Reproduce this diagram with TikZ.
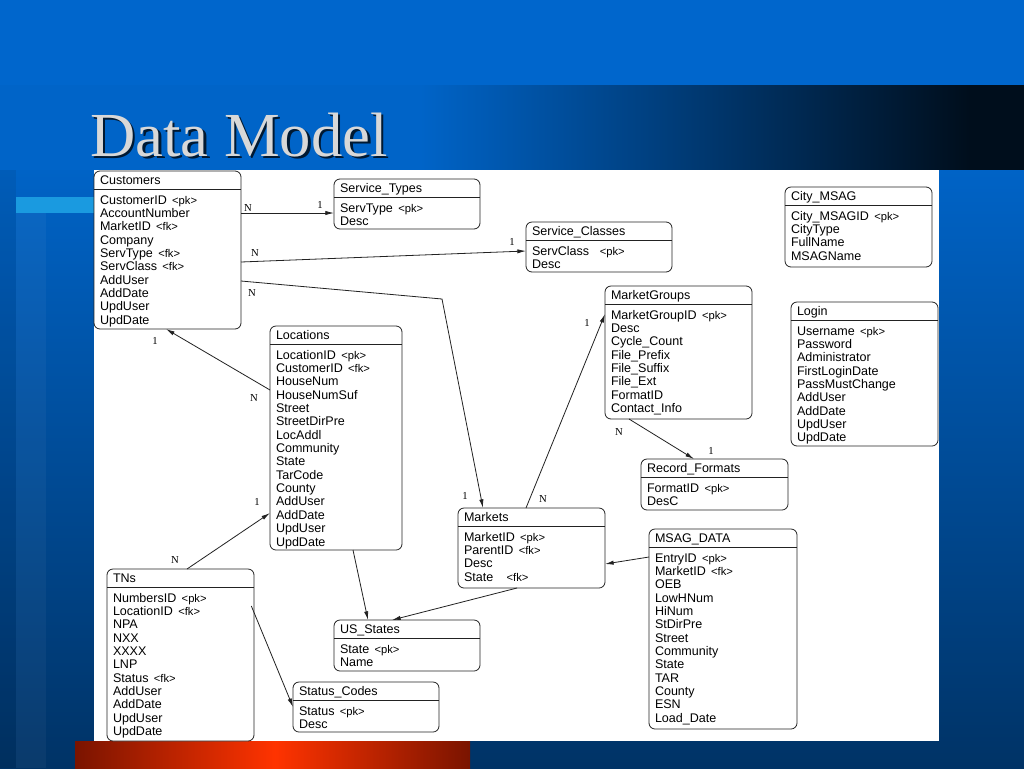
\documentclass[tikz,border=0pt]{standalone}
\usepackage{fontspec}
\setmainfont{Liberation Sans}
\newfontfamily\titlefont{Liberation Serif}
\newfontfamily\cardfont{Liberation Serif}
\usetikzlibrary{arrows.meta,calc}

\definecolor{topblue}{HTML}{0066CC}
\definecolor{bandleft}{HTML}{0064C8}
\definecolor{bandright}{HTML}{000E1C}
\definecolor{bgtop}{HTML}{0063C6}
\definecolor{bgbot}{HTML}{003366}
\definecolor{lightbar}{HTML}{1A9AE0}
\definecolor{reddark}{HTML}{7A1400}
\definecolor{redbright}{HTML}{FF3300}
\definecolor{titlegrey}{HTML}{D8D8D8}
\definecolor{inkline}{HTML}{222222}

\newcommand\gp{\hspace{4pt}}
\newcommand\pkey{{\fontsize{8.4}{10}\selectfont<pk>}}
\newcommand\fkey{{\fontsize{8.4}{10}\selectfont<fk>}}

\tikzset{
  tbl/.style={draw=inkline, line width=0.6pt, rounded corners=4.5pt, fill=white,
    rectangle, inner sep=0pt, outer sep=0pt},
  tline/.style={draw=inkline, line width=0.6pt},
  rowtxt/.style={anchor=base west, inner sep=0pt, outer sep=0pt,
    font=\fontsize{9.4}{10}\selectfont, text=black},
  card/.style={inner sep=0pt, font=\cardfont\fontsize{8}{9}\selectfont, text=black},
  rel/.style={draw=inkline, line width=0.6pt, -{Latex[length=6.5pt,width=3.2pt]}},
  plain/.style={draw=inkline, line width=0.6pt}
}

% name, left, top, right, bottom, title, rows
\newcommand\erbox[7]{%
  \node[tbl, anchor=north west, minimum width={(#4-#2)*0.75pt},
        minimum height={(#5-#3)*0.75pt}] (#1) at (#2,#3) {};
  \draw[tline] (#1.west |- 0,#3+18.5) -- (#1.east |- 0,#3+18.5);
  \node[rowtxt] (#1-h) at (#2+6,#3+13.6) {#6};
  \foreach [count=\i] \r in {#7} {
    \node[rowtxt] (#1-\i) at (#2+6,#3+33.1+\i*13.35-13.35) {\r};
  }%
}

\begin{document}
\begin{tikzpicture}[x=0.75pt,y=-0.75pt]
\useasboundingbox (0,0) rectangle (1024,768);

% background
\fill[topblue] (0,0) rectangle (1024,85);
\fill[bandleft] (0,85) rectangle (420,170);
\shade[left color=bandleft, right color=bandright] (420,85) rectangle (970,170);
\fill[bandright] (970,85) rectangle (1024,170);
\shade[top color=bgtop, bottom color=bgbot] (0,170) rectangle (1024,768);
\fill[black, opacity=0.07] (0,170) rectangle (16,768);
\fill[white, opacity=0.04] (16,213) rectangle (46,768);
\fill[lightbar] (16,197) rectangle (95,213);
\shade[left color=reddark, right color=redbright] (75,741) rectangle (275,768);
\shade[left color=redbright, right color=reddark] (275,741) rectangle (470,768);
\fill[white] (94,170) rectangle (939,741);

% title
\node[anchor=base west, inner sep=0pt, text=black, opacity=0.75,
      font=\titlefont\fontsize{47}{50}\selectfont] (titleshadow) at (92.5,158.5) {Data Model};
\node[anchor=base west, inner sep=0pt, text=titlegrey,
      font=\titlefont\fontsize{47}{50}\selectfont] (title) at (90,156) {Data Model};

% tables
\erbox{cust}{94}{171}{241}{329}{Customers}{CustomerID\gp\pkey,AccountNumber,MarketID\gp\fkey,Company,ServType\gp\fkey,ServClass\gp\fkey,AddUser,AddDate,UpdUser,UpdDate}
\erbox{stypes}{334}{179}{480}{229}{Service\_Types}{ServType\gp\pkey,Desc}
\erbox{sclasses}{526}{222}{672}{272}{Service\_Classes}{ServClass\gp\gp\pkey,Desc}
\erbox{mgroups}{605}{286}{752}{419}{MarketGroups}{MarketGroupID\gp\pkey,Desc,Cycle\_Count,File\_Prefix,File\_Suffix,File\_Ext,FormatID,Contact\_Info}
\erbox{recfmt}{641}{459}{788}{510}{Record\_Formats}{FormatID\gp\pkey,DesC}
\erbox{citymsag}{785}{187}{932}{267}{City\_MSAG}{City\_MSAGID\gp\pkey,CityType,FullName,MSAGName}
\erbox{login}{791}{302}{938}{446}{Login}{Username\gp\pkey,Password,Administrator,FirstLoginDate,PassMustChange,AddUser,AddDate,UpdUser,UpdDate}
\erbox{loc}{270}{326}{402}{550}{Locations}{LocationID\gp\pkey,CustomerID\gp\fkey,HouseNum,HouseNumSuf,Street,StreetDirPre,LocAddl,Community,State,TarCode,County,AddUser,AddDate,UpdUser,UpdDate}
\erbox{markets}{458}{508}{605}{588}{Markets}{MarketID\gp\pkey,ParentID\gp\fkey,Desc,State\hspace{10pt}\fkey}
\erbox{msag}{649}{529}{797}{729}{MSAG\_DATA}{EntryID\gp\pkey,MarketID\gp\fkey,OEB,LowHNum,HiNum,StDirPre,Street,Community,State,TAR,County,ESN,Load\_Date}
\erbox{tns}{107}{569}{254}{741}{TNs}{NumbersID\gp\pkey,LocationID\gp\fkey,NPA,NXX,XXXX,LNP,Status\gp\fkey,AddUser,AddDate,UpdUser,UpdDate}
\erbox{usstates}{334}{620}{480}{671}{US\_States}{State\gp\pkey,Name}
\erbox{statcodes}{293}{682}{439}{732}{Status\_Codes}{Status\gp\pkey,Desc}

% connectors
\draw[rel] (cust.east |- 0,213) -- (stypes.west |- 0,213);
\draw[rel] (cust.east |- 0,262) -- (sclasses.west |- 0,251);
\coordinate (bend1) at (442,299);
\draw[rel] (cust.east |- 0,281) -- (bend1) -- (markets.north -| 483,0);
\draw[rel] (markets.north -| 526,0) -- (mgroups.west |- 0,314);
\draw[rel] (mgroups.south -| 629,0) -- (recfmt.north -| 694,0);
\draw[rel] (loc.west |- 0,390) -- (cust.south -| 166,0);
\draw[rel] (tns.north -| 187,0) -- (loc.west |- 0,513);
\draw[rel] ([xshift=-2pt]tns.east |- 0,606) -- (statcodes.west |- 0,707);
\draw[rel] (loc.south -| 353,0) -- (usstates.north -| 368,0);
\draw[rel] (markets.south -| 517,0) -- (usstates.north -| 392,0);
\draw[rel] (msag.west |- 0,557) -- (markets.east |- 0,564);

% cardinalities
\node[card] (c1n) at (248,208) {N};
\node[card] (c1o) at (320,205) {1};
\node[card] (c2n) at (255,253) {N};
\node[card] (c2o) at (512,242) {1};
\node[card] (c3n) at (252,293) {N};
\node[card] (c3o) at (465,496) {1};
\node[card] (c4o) at (587,323) {1};
\node[card] (c4n) at (543,499) {N};
\node[card] (c5n) at (619,432) {N};
\node[card] (c5o) at (711,451) {1};
\node[card] (c6o) at (155,341) {1};
\node[card] (c6n) at (254,398) {N};
\node[card] (c7o) at (257,502) {1};
\node[card] (c7n) at (175,560) {N};
\end{tikzpicture}
\end{document}
